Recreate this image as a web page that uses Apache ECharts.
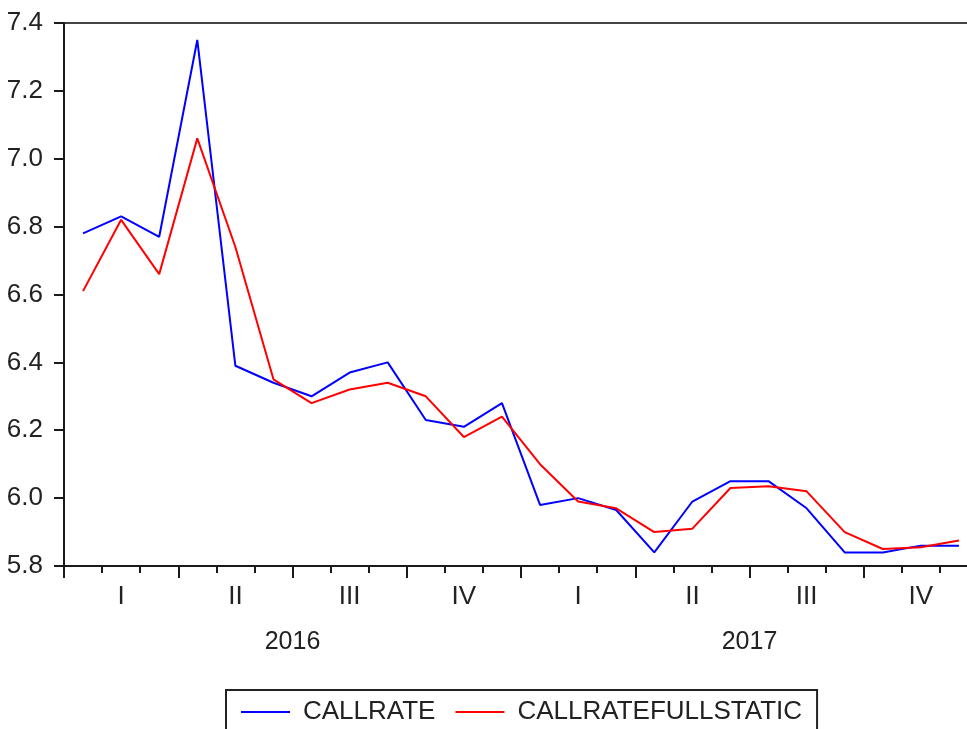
<!DOCTYPE html>
<html>
<head>
<meta charset="utf-8">
<script src="https://cdn.jsdelivr.net/npm/echarts@6/dist/echarts.min.js"></script>
<style>
  html, body { margin: 0; padding: 0; overflow: hidden; background: #fff; }
  #chart { width: 1000px; height: 729px; }
</style>
</head>
<body>
<div id="chart"></div>
<script>
const months = [
  '2016M01', '2016M02', '2016M03', '2016M04', '2016M05', '2016M06',
  '2016M07', '2016M08', '2016M09', '2016M10', '2016M11', '2016M12',
  '2017M01', '2017M02', '2017M03', '2017M04', '2017M05', '2017M06',
  '2017M07', '2017M08', '2017M09', '2017M10', '2017M11', '2017M12',
]
const quarters = ['I', 'II', 'III', 'IV', 'I', 'II', 'III', 'IV']
const years = ['2016', '2017']

const callrate = [
  6.78, 6.83, 6.77, 7.35, 6.39, 6.34, 6.30, 6.37, 6.40, 6.23, 6.21, 6.28,
  5.98, 6.00, 5.965, 5.84, 5.99, 6.05, 6.05, 5.97, 5.84, 5.84, 5.86, 5.86,
]
const callrateFullStatic = [
  6.61, 6.82, 6.66, 7.06, 6.74, 6.35, 6.28, 6.32, 6.34, 6.30, 6.18, 6.24,
  6.10, 5.99, 5.97, 5.90, 5.91, 6.03, 6.035, 6.02, 5.90, 5.85, 5.855, 5.875,
]

const chart = echarts.init(document.getElementById('chart'))

const font = 'Liberation Sans, Arial, sans-serif'
const axisColor = '#1a1a1a'

const option = {
  animation: false,
  grid: {
    left: 64,
    right: 22,
    top: 23,
    bottom: 163,
    show: true,
    borderColor: '#444',
    borderWidth: 2,
  },
  legend: {
    left: 226,
    top: 690,
    padding: [9, 15, 10, 15],
    borderColor: '#222',
    borderWidth: 2,
    icon: 'rect',
    itemWidth: 49,
    itemHeight: 2,
    itemGap: 20,
    textStyle: {
      fontFamily: font,
      fontSize: 26,
      color: '#222',
      padding: [0, 0, 0, 8],
    },
    data: ['CALLRATE', 'CALLRATEFULLSTATIC'],
  },
  xAxis: [
    {
      // monthly axis carrying the data, short ticks
      type: 'category',
      data: months,
      boundaryGap: true,
      axisLine: { show: true, lineStyle: { color: axisColor, width: 2 } },
      axisTick: { show: true, length: 7, interval: 0, lineStyle: { color: axisColor, width: 2 } },
      axisLabel: { show: false },
      splitLine: { show: false },
    },
    {
      // quarter axis, long ticks + I..IV labels
      type: 'category',
      data: quarters,
      position: 'bottom',
      boundaryGap: true,
      axisLine: { show: false },
      axisTick: { show: true, length: 12, interval: 0, lineStyle: { color: axisColor, width: 2 } },
      axisLabel: {
        interval: 0,
        margin: 18,
        fontFamily: font,
        fontSize: 26,
        color: '#222',
      },
      splitLine: { show: false },
    },
    {
      // year labels
      type: 'category',
      data: years,
      position: 'bottom',
      boundaryGap: true,
      axisLine: { show: false },
      axisTick: { show: false },
      axisLabel: {
        interval: 0,
        margin: 64,
        fontFamily: font,
        fontSize: 25,
        color: '#222',
      },
      splitLine: { show: false },
    },
  ],
  yAxis: {
    type: 'value',
    min: 5.8,
    max: 7.4,
    interval: 0.2,
    axisLine: { show: true, lineStyle: { color: axisColor, width: 2 } },
    axisTick: { show: true, length: 10, lineStyle: { color: axisColor, width: 2 } },
    axisLabel: {
      margin: 21,
      fontFamily: font,
      fontSize: 26,
      color: '#222',
      formatter: (v) => v.toFixed(1),
    },
    splitLine: { show: false },
  },
  series: [
    {
      name: 'CALLRATE',
      type: 'line',
      xAxisIndex: 0,
      data: callrate,
      symbol: 'none',
      color: '#0000ff',
      lineStyle: { color: '#0000ff', width: 2 },
    },
    {
      name: 'CALLRATEFULLSTATIC',
      type: 'line',
      xAxisIndex: 0,
      data: callrateFullStatic,
      symbol: 'none',
      color: '#ff0000',
      lineStyle: { color: '#ff0000', width: 2 },
    },
  ],
}

chart.setOption(option)
</script>
</body>
</html>
